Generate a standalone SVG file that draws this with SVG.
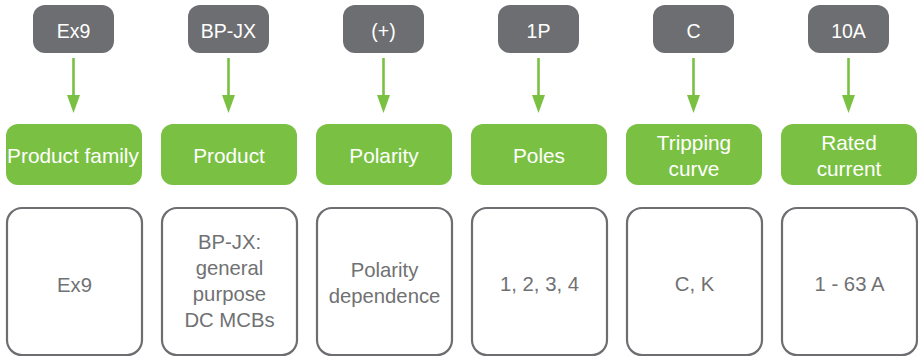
<svg xmlns="http://www.w3.org/2000/svg" width="918" height="357" viewBox="0 0 918 357">
<style>
.code{fill:#6d6e71}
.codet{fill:#ffffff;font-family:"Liberation Sans",Arial,sans-serif;font-size:19.5px;text-anchor:middle}
.cat{fill:#7ac143}
.catt{fill:#ffffff;font-family:"Liberation Sans",Arial,sans-serif;font-size:20.8px;text-anchor:middle}
.val{fill:#ffffff;stroke:#6d6e71;stroke-width:2.2}
.valt{fill:#707173;font-family:"Liberation Sans",Arial,sans-serif;font-size:20.3px;text-anchor:middle}
.conn{stroke:#7ac143;stroke-width:2.6;fill:none}
.head{fill:#7ac143}
</style>
<g id="connectors">
<path class="conn" d="M73.5,58 V96"/><path class="head" d="M67,95 H80 L73.5,113 Z"/>
<path class="conn" d="M228.5,58 V96"/><path class="head" d="M222,95 H235 L228.5,113 Z"/>
<path class="conn" d="M383.5,58 V96"/><path class="head" d="M377,95 H390 L383.5,113 Z"/>
<path class="conn" d="M538.5,58 V96"/><path class="head" d="M532,95 H545 L538.5,113 Z"/>
<path class="conn" d="M693.5,58 V96"/><path class="head" d="M687,95 H700 L693.5,113 Z"/>
<path class="conn" d="M848.5,58 V96"/><path class="head" d="M842,95 H855 L848.5,113 Z"/>
</g>
<g id="code-ex9"><rect class="code" x="33" y="5" width="81" height="48" rx="12"/><text class="codet" x="73.5" y="38">Ex9</text></g>
<g id="code-bpjx"><rect class="code" x="188" y="5" width="81" height="48" rx="12"/><text class="codet" x="228.5" y="38">BP-JX</text></g>
<g id="code-plus"><rect class="code" x="343" y="5" width="81" height="48" rx="12"/><text class="codet" x="383.5" y="38">(+)</text></g>
<g id="code-1p"><rect class="code" x="498" y="5" width="81" height="48" rx="12"/><text class="codet" x="538.5" y="38">1P</text></g>
<g id="code-c"><rect class="code" x="653" y="5" width="81" height="48" rx="12"/><text class="codet" x="693.5" y="38">C</text></g>
<g id="code-10a"><rect class="code" x="808" y="5" width="81" height="48" rx="12"/><text class="codet" x="848.5" y="38">10A</text></g>

<g id="cat-family"><rect class="cat" x="6" y="124" width="136" height="61" rx="12"/><text class="catt" x="73" y="163">Product family</text></g>
<g id="cat-product"><rect class="cat" x="161" y="124" width="136" height="61" rx="12"/><text class="catt" x="229" y="163">Product</text></g>
<g id="cat-polarity"><rect class="cat" x="316" y="124" width="136" height="61" rx="12"/><text class="catt" x="384" y="163">Polarity</text></g>
<g id="cat-poles"><rect class="cat" x="471" y="124" width="136" height="61" rx="12"/><text class="catt" x="539" y="163">Poles</text></g>
<g id="cat-curve"><rect class="cat" x="626" y="124" width="136" height="61" rx="12"/><text class="catt" x="694" y="150">Tripping</text><text class="catt" x="694" y="176">curve</text></g>
<g id="cat-current"><rect class="cat" x="781" y="124" width="136" height="61" rx="12"/><text class="catt" x="849" y="150">Rated</text><text class="catt" x="849" y="176">current</text></g>

<g id="val-family"><rect class="val" x="7" y="208" width="135" height="147" rx="15"/><text class="valt" x="74.5" y="292">Ex9</text></g>
<g id="val-product"><rect class="val" x="162" y="208" width="135" height="147" rx="15"/><text class="valt" x="229.5" y="249">BP-JX:</text><text class="valt" x="229.5" y="275">general</text><text class="valt" x="229.5" y="301">purpose</text><text class="valt" x="229.5" y="327">DC MCBs</text></g>
<g id="val-polarity"><rect class="val" x="317" y="208" width="135" height="147" rx="15"/><text class="valt" x="384.5" y="277">Polarity</text><text class="valt" x="384.5" y="303">dependence</text></g>
<g id="val-poles"><rect class="val" x="472" y="208" width="135" height="147" rx="15"/><text class="valt" x="539.5" y="291">1, 2, 3, 4</text></g>
<g id="val-curve"><rect class="val" x="627" y="208" width="135" height="147" rx="15"/><text class="valt" x="694.5" y="291">C, K</text></g>
<g id="val-current"><rect class="val" x="782" y="208" width="135" height="147" rx="15"/><text class="valt" x="849.5" y="291">1 - 63 A</text></g>
</svg>
